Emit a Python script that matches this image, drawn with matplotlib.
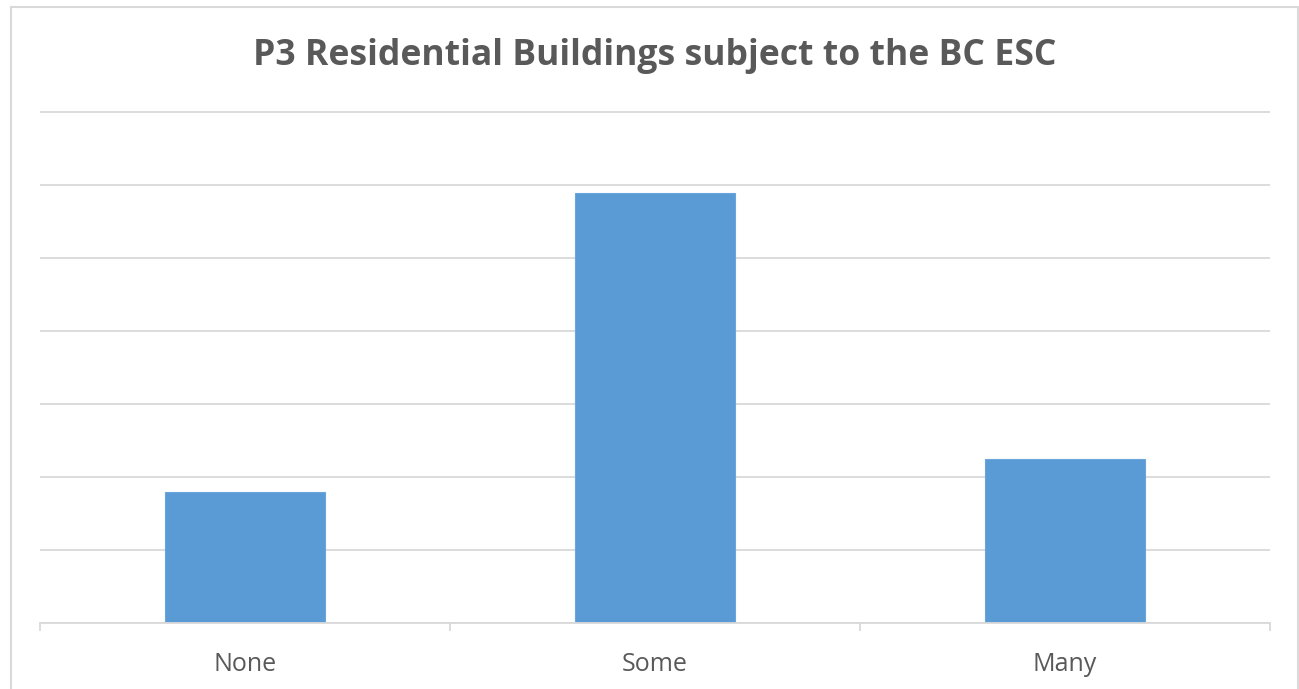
import matplotlib
matplotlib.use("Agg")
import matplotlib.pyplot as plt
from matplotlib.patches import Rectangle

categories = ["None", "Some", "Many"]
values = [17.9, 58.8, 22.4]
y_ticks = [0, 10, 20, 30, 40, 50, 60, 70]
title = "P3 Residential Buildings subject to the BC ESC"

W, H = 1299, 689
fig = plt.figure(figsize=(W / 100, H / 100), dpi=100)
fig.patch.set_facecolor("white")

# plot area in pixel terms
left_px, right_px = 40, 1270
base_px, top_px = 622.7, 111.7
ymax = 71
h_px = (base_px - top_px) / 70 * ymax
ax = fig.add_axes([left_px / W, (H - base_px) / H, (right_px - left_px) / W, h_px / H])

grid_c = "#d9d9d9"
text_c = "#595959"
bar_c = "#5b9bd5"

x = list(range(len(categories)))
ax.bar(x, values, width=0.39, color=bar_c, edgecolor="#6aa6dc", linewidth=0.8, zorder=3)

ax.set_xlim(-0.5, len(categories) - 0.5)
ax.set_ylim(0, ymax)
ax.set_yticks(y_ticks)
ax.yaxis.grid(True, color=grid_c, linewidth=1.3)
ax.set_axisbelow(True)
ax.tick_params(axis="y", left=False, labelleft=False)

for s in ["left", "right", "top"]:
    ax.spines[s].set_visible(False)
ax.spines["bottom"].set_color(grid_c)
ax.spines["bottom"].set_linewidth(1.3)
ax.spines["bottom"].set_zorder(4)

ax.set_xticks(x)
ax.set_xticklabels(categories, fontsize=18, color=text_c, fontfamily="Open Sans")
ax.tick_params(axis="x", which="major", length=0, pad=21)
ax.set_xticks([i - 0.5 for i in range(len(categories) + 1)], minor=True)
ax.tick_params(axis="x", which="minor", length=6, width=1.3, color=grid_c, direction="out")

fig.text(654.5 / W, 1 - 56 / H, title, ha="center", va="center", fontsize=25.6,
         fontweight="bold", color=text_c, fontfamily="Open Sans")

# outer chart frame
fig.patches.append(Rectangle((11 / W, -0.05), (1298 - 11) / W, 1 - 7 / H + 0.05,
                             transform=fig.transFigure, fill=False,
                             edgecolor=grid_c, linewidth=1.5))

fig.savefig("out.png", dpi=100)
